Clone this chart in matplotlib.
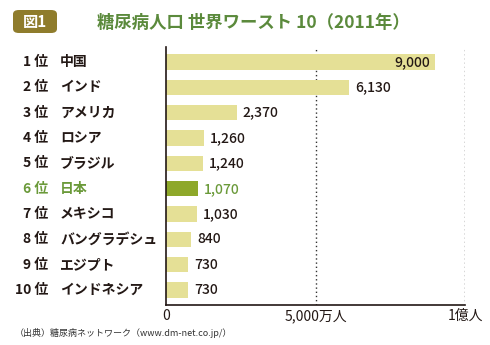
import matplotlib.pyplot as plt
from matplotlib.patches import FancyBboxPatch

plt.rcParams['font.family'] = ['Noto Sans CJK JP', 'DejaVu Sans']

ranks = ['1 位', '2 位', '3 位', '4 位', '5 位', '6 位', '7 位', '8 位', '9 位', '10 位']
countries = ['中国', 'インド', 'アメリカ', 'ロシア', 'ブラジル', '日本',
             'メキシコ', 'バングラデシュ', 'エジプト', 'インドネシア']
values = [9000, 6130, 2370, 1260, 1240, 1070, 1030, 840, 730, 730]
xticks = [0, 5000, 10000]
xticklabels = ['0', '5,000万人', '1億人']
highlight = '日本'

bar_color = '#e5e096'
hi_bar_color = '#8ea82a'
hi_text_color = '#6b9a3a'
title_color = '#5b8a3c'
text_color = '#231815'

fig = plt.figure(figsize=(4.9, 3.45), dpi=100)
ax = fig.add_axes([166 / 490, 40 / 345, 299 / 490, 258 / 345])

ypos = list(range(len(values)))
colors = [hi_bar_color if c == highlight else bar_color for c in countries]
ax.barh(ypos, values, height=0.6, color=colors, zorder=2)

ax.set_xlim(0, 10000)
ax.set_ylim(len(values) - 1 + 0.59, -0.59)

# dotted guide lines
for x in xticks[1:]:
    ax.axvline(x, color='#333333', linestyle=(0, (1, 2)), linewidth=1, zorder=1)

for s in ['top', 'right']:
    ax.spines[s].set_visible(False)
for s in ['left', 'bottom']:
    ax.spines[s].set_color(text_color)
    ax.spines[s].set_linewidth(1.2)

ax.set_yticks([])
ax.set_xticks(xticks)
ax.set_xticklabels(xticklabels, fontsize=10, color=text_color)
ax.tick_params(axis='x', length=0, pad=3)

for i, (r, c, v) in enumerate(zip(ranks, countries, values)):
    tc = hi_text_color if c == highlight else text_color
    ax.annotate(r, xy=(0, i), xycoords=('axes fraction', 'data'),
                xytext=(-118, 0), textcoords='offset pixels',
                ha='right', va='center', fontsize=10, fontweight='bold', color=tc)
    ax.annotate(c, xy=(0, i), xycoords=('axes fraction', 'data'),
                xytext=(-106, 0), textcoords='offset pixels',
                ha='left', va='center', fontsize=10, fontweight='bold', color=tc)
    label = f'{v:,}'
    if v == max(values):
        ax.annotate(label, xy=(v, i), xytext=(-5, 0), textcoords='offset pixels',
                    ha='right', va='center', fontsize=10, fontweight='medium', color=tc)
    else:
        ax.annotate(label, xy=(v, i), xytext=(6, 0), textcoords='offset pixels',
                    ha='left', va='center', fontsize=10, fontweight='medium', color=tc)

# title badge
badge = FancyBboxPatch((13 / 490, 312 / 345), 44 / 490, 23 / 345,
                       boxstyle='round,pad=0,rounding_size=0.012',
                       transform=fig.transFigure, facecolor='#8f7c2c',
                       edgecolor='none')
fig.patches.append(badge)
fig.text(35 / 490, 323 / 345, '図1', ha='center', va='center', fontsize=11,
         fontweight='bold', color='white')
fig.text(97 / 490, 322 / 345, '糖尿病人口 世界ワースト 10（2011年）', ha='left',
         va='center', fontsize=12.5, fontweight='bold', color=title_color)

fig.text(15 / 490, 12 / 345, '（出典）糖尿病ネットワーク（www.dm-net.co.jp/）',
         ha='left', va='center', fontsize=6.5, color='#333333')

fig.savefig('out.png', dpi=100)
